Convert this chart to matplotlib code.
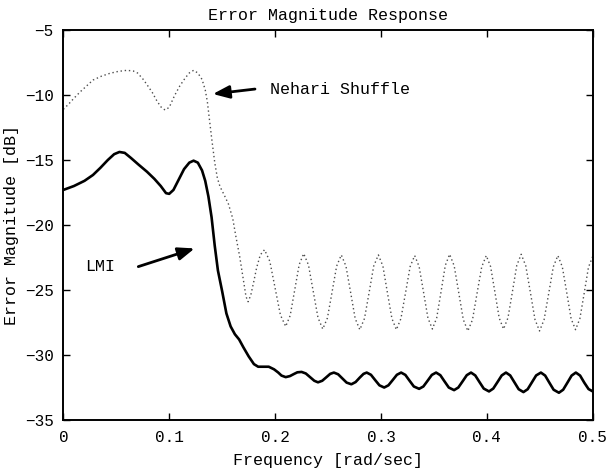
import matplotlib
matplotlib.use("Agg")
import matplotlib.pyplot as plt

# LMI error magnitude (solid)
lmi_freq = [0.000, 0.010, 0.020, 0.028, 0.035, 0.042, 0.048, 0.053, 0.058, 0.064,
            0.071, 0.079, 0.086, 0.092, 0.097, 0.100, 0.104, 0.109, 0.114, 0.119,
            0.123, 0.127, 0.131, 0.134, 0.137, 0.140, 0.143, 0.146, 0.150, 0.154,
            0.158, 0.162, 0.166, 0.170, 0.175, 0.180, 0.184, 0.189, 0.194, 0.199,
            0.203, 0.206, 0.210, 0.214, 0.218, 0.221, 0.225, 0.229, 0.233, 0.237,
            0.2405, 0.2445, 0.2485, 0.2520, 0.2555, 0.2595, 0.2635, 0.2675, 0.2720, 0.2760,
            0.2800, 0.2835, 0.2865, 0.2905, 0.2945, 0.2985, 0.3030, 0.3070, 0.3110, 0.3150,
            0.3190, 0.3230, 0.3270, 0.3310, 0.3360, 0.3400, 0.3440, 0.3480, 0.3520, 0.3560,
            0.3600, 0.3640, 0.3690, 0.3730, 0.3770, 0.3810, 0.3850, 0.3890, 0.3930, 0.3970,
            0.4020, 0.4060, 0.4100, 0.4140, 0.4180, 0.4220, 0.4260, 0.4300, 0.4345, 0.4385,
            0.4425, 0.4465, 0.4510, 0.4550, 0.4590, 0.4630, 0.4680, 0.4720, 0.4760, 0.4800,
            0.4840, 0.4880, 0.4920, 0.4960, 0.5000]
lmi_db = [-17.30, -17.00, -16.60, -16.15, -15.60, -15.00, -14.55, -14.38, -14.45, -14.85,
          -15.35, -15.90, -16.45, -17.00, -17.55, -17.60, -17.30, -16.50, -15.70, -15.20,
          -15.05, -15.20, -15.80, -16.60, -17.80, -19.40, -21.60, -23.50, -25.10, -26.80,
          -27.80, -28.40, -28.80, -29.40, -30.10, -30.70, -30.90, -30.90, -30.90, -31.10,
          -31.35, -31.58, -31.70, -31.62, -31.45, -31.33, -31.30, -31.42, -31.70, -31.98,
          -32.10, -31.98, -31.70, -31.45, -31.35, -31.48, -31.80, -32.12, -32.25, -32.08,
          -31.73, -31.45, -31.35, -31.52, -31.93, -32.33, -32.50, -32.33, -31.93, -31.52,
          -31.35, -31.53, -31.98, -32.42, -32.60, -32.42, -31.98, -31.53, -31.35, -31.55,
          -32.03, -32.50, -32.70, -32.50, -32.03, -31.55, -31.35, -31.57, -32.08, -32.58,
          -32.80, -32.58, -32.08, -31.57, -31.35, -31.57, -32.10, -32.63, -32.85, -32.63,
          -32.10, -31.57, -31.35, -31.58, -32.13, -32.67, -32.90, -32.67, -32.13, -31.58,
          -31.35, -31.58, -32.13, -32.62, -32.80]

# Nehari shuffle error magnitude (dotted)
neh_freq = [0.000, 0.005, 0.010, 0.016, 0.022, 0.028, 0.036, 0.044, 0.052, 0.060,
            0.066, 0.070, 0.075, 0.079, 0.084, 0.088, 0.092, 0.096, 0.100, 0.105,
            0.110, 0.115, 0.119, 0.123, 0.127, 0.131, 0.134, 0.136, 0.138, 0.1405,
            0.143, 0.1455, 0.148, 0.152, 0.156, 0.160, 0.163, 0.1665, 0.170, 0.1725,
            0.1745, 0.177, 0.180, 0.1825, 0.186, 0.190, 0.195, 0.200, 0.205, 0.210,
            0.21425, 0.2185, 0.22275, 0.227, 0.2315, 0.236, 0.2405, 0.245, 0.2494, 0.2538,
            0.2581, 0.2625, 0.2669, 0.2713, 0.2756, 0.280, 0.2844, 0.2888, 0.2931, 0.2975,
            0.3018, 0.3060, 0.3103, 0.3145, 0.3188, 0.3232, 0.3275, 0.3318, 0.3360, 0.3402,
            0.3443, 0.3485, 0.3526, 0.3567, 0.3607, 0.3648, 0.3691, 0.3734, 0.3777, 0.382,
            0.3864, 0.3907, 0.3951, 0.3994, 0.4035, 0.4076, 0.4116, 0.4157, 0.4199, 0.4241,
            0.4282, 0.4324, 0.4367, 0.4411, 0.4454, 0.4497, 0.4540, 0.4584, 0.4627, 0.467,
            0.4712, 0.4754, 0.4795, 0.4837, 0.4878, 0.4919, 0.4959, 0.500]
neh_db = [-11.10, -10.70, -10.25, -9.75, -9.30, -8.85, -8.55, -8.33, -8.18, -8.10,
          -8.15, -8.30, -8.75, -9.20, -9.80, -10.40, -10.90, -11.15, -10.95, -10.05,
          -9.30, -8.70, -8.30, -8.10, -8.30, -8.80, -9.60, -10.50, -11.90, -13.60,
          -15.20, -16.40, -17.05, -17.70, -18.40, -19.50, -20.90, -22.40, -24.20, -25.50,
          -25.90, -25.40, -24.30, -23.30, -22.30, -21.90, -22.79, -24.85, -26.92, -27.80,
          -26.96, -25.00, -23.04, -22.20, -23.07, -25.10, -27.13, -28.00, -27.15, -25.15,
          -23.16, -22.30, -23.16, -25.18, -27.19, -28.05, -27.19, -25.18, -23.16, -22.30,
          -23.16, -25.18, -27.19, -28.05, -27.20, -25.20, -23.20, -22.35, -23.20, -25.18,
          -27.15, -28.00, -27.14, -25.13, -23.11, -22.25, -23.14, -25.20, -27.27, -28.15,
          -27.28, -25.25, -23.22, -22.35, -23.20, -25.18, -27.15, -28.00, -27.14, -25.13,
          -23.11, -22.25, -23.14, -25.20, -27.27, -28.15, -27.28, -25.25, -23.22, -22.35,
          -23.21, -25.20, -27.20, -28.05, -27.20, -25.23, -23.25, -22.40]

xticks = [0, 0.1, 0.2, 0.3, 0.4, 0.5]
xticklabels = ["0", "0.1", "0.2", "0.3", "0.4", "0.5"]
yticks = [-35, -30, -25, -20, -15, -10, -5]

plt.rcParams['font.family'] = ['Liberation Mono', 'DejaVu Sans Mono']
plt.rcParams['font.size'] = 11

fig = plt.figure(figsize=(6.1, 4.73), dpi=100)
ax = fig.add_axes([0.1038, 0.112, 0.868, 0.8245])

ax.plot(neh_freq, neh_db, color='0.3', lw=1.0, linestyle=(0, (1.0, 2.0)))
ax.plot(lmi_freq, lmi_db, color='black', lw=1.9)

ax.set_xlim(0, 0.5)
ax.set_ylim(-35, -5)
ax.set_xticks(xticks)
ax.set_xticklabels(xticklabels)
ax.set_yticks(yticks)
ax.tick_params(direction='in', length=5, width=1, top=True, right=True, pad=7,
               labelsize=11.5)
for s in ax.spines.values():
    s.set_linewidth(1.4)

ax.set_title('Error Magnitude Response', fontsize=12, pad=7)
ax.set_xlabel('Frequency [rad/sec]', fontsize=12, labelpad=6)
ax.set_ylabel('Error Magnitude [dB]', fontsize=12, labelpad=4)

arrow = dict(arrowstyle='-|>,head_length=0.9,head_width=0.35', color='black', lw=2.0,
             shrinkA=0, shrinkB=0)
ax.annotate('', xy=(0.1412, -9.92), xytext=(0.181, -9.54), arrowprops=arrow)
ax.text(0.195, -9.54, 'Nehari Shuffle', va='center', ha='left', fontsize=12)
ax.annotate('', xy=(0.124, -21.8), xytext=(0.0708, -23.2), arrowprops=arrow)
ax.text(0.0205, -23.2, 'LMI', va='center', ha='left', fontsize=12)

fig.savefig('out.png', dpi=100)
